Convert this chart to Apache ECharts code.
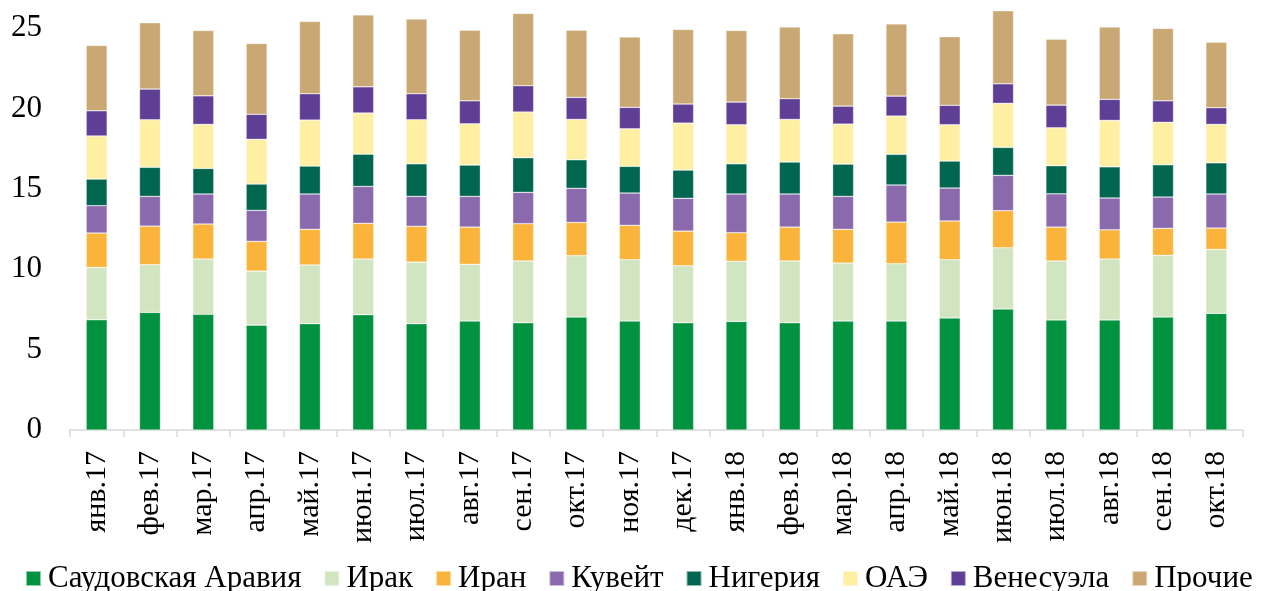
<!DOCTYPE html>
<html>
<head>
<meta charset="utf-8">
<script src="https://cdn.jsdelivr.net/npm/echarts@6/dist/echarts.min.js"></script>
<style>
  html, body { margin: 0; padding: 0; background: #fff; }
  #chart { width: 1262px; height: 591px; }
</style>
</head>
<body>
<div id="chart"></div>
<script>
// месяцы
const months = ['янв.17', 'фев.17', 'мар.17', 'апр.17', 'май.17', 'июн.17', 'июл.17', 'авг.17', 'сен.17', 'окт.17', 'ноя.17', 'дек.17',
  'янв.18', 'фев.18', 'мар.18', 'апр.18', 'май.18', 'июн.18', 'июл.18', 'авг.18', 'сен.18', 'окт.18']

// значения по странам
const saudi = [6.86, 7.32, 7.20, 6.53, 6.62, 7.18, 6.62, 6.78, 6.68, 7.03, 6.78, 6.68, 6.76, 6.68, 6.78, 6.78, 6.97, 7.53, 6.85, 6.85, 7.03, 7.26]
const iraq = [3.26, 2.97, 3.44, 3.36, 3.65, 3.46, 3.83, 3.53, 3.84, 3.82, 3.82, 3.54, 3.74, 3.84, 3.61, 3.57, 3.63, 3.81, 3.67, 3.79, 3.84, 3.98]
const iran = [2.14, 2.40, 2.18, 1.85, 2.22, 2.22, 2.23, 2.32, 2.32, 2.07, 2.14, 2.16, 1.78, 2.11, 2.10, 2.59, 2.41, 2.31, 2.11, 1.82, 1.68, 1.33]
const kuwait = [1.70, 1.85, 1.87, 1.93, 2.20, 2.30, 1.86, 1.91, 1.95, 2.12, 2.01, 2.04, 2.41, 2.06, 2.05, 2.31, 2.05, 2.20, 2.07, 1.98, 1.95, 2.12]
const nigeria = [1.66, 1.81, 1.59, 1.64, 1.74, 2.01, 2.03, 1.95, 2.16, 1.78, 1.66, 1.76, 1.88, 1.99, 2.01, 1.91, 1.68, 1.74, 1.75, 1.94, 2.01, 1.94]
const uae = [2.68, 2.96, 2.74, 2.78, 2.86, 2.56, 2.74, 2.57, 2.84, 2.51, 2.34, 2.92, 2.43, 2.65, 2.49, 2.38, 2.26, 2.74, 2.36, 2.89, 2.64, 2.39]
const venezuela = [1.57, 1.91, 1.78, 1.56, 1.64, 1.63, 1.62, 1.43, 1.64, 1.37, 1.33, 1.19, 1.41, 1.29, 1.12, 1.24, 1.21, 1.22, 1.41, 1.31, 1.34, 1.04]
const others = [4.07, 4.13, 4.07, 4.41, 4.50, 4.48, 4.65, 4.40, 4.50, 4.19, 4.38, 4.64, 4.46, 4.46, 4.50, 4.50, 4.27, 4.54, 4.11, 4.50, 4.51, 4.08]

// ось Y: верхняя часть (30) обрезана, как в исходнике
const yTicks = { min: 0, max: 30, interval: 5 }

const seriesList = [
  { name: 'Саудовская Аравия', data: saudi, color: '#00923F' },
  { name: 'Ирак', data: iraq, color: '#D1E5C0' },
  { name: 'Иран', data: iran, color: '#FAB33B' },
  { name: 'Кувейт', data: kuwait, color: '#8A69AC' },
  { name: 'Нигерия', data: nigeria, color: '#00664F' },
  { name: 'ОАЭ', data: uae, color: '#FFEFA2' },
  { name: 'Венесуэла', data: venezuela, color: '#5F3E96' },
  { name: 'Прочие', data: others, color: '#CAA874' },
]

const font = '"Liberation Serif", "DejaVu Serif", serif'

const chart = echarts.init(document.getElementById('chart'))

chart.setOption({
  animation: false,
  backgroundColor: '#fff',
  textStyle: { fontFamily: font },
  grid: { left: 70, right: 19, top: -52, bottom: 161, outerBoundsMode: 'none', containLabel: false },
  legend: {
    left: 20,
    top: 558,
    width: 1262,
    icon: 'rect',
    itemWidth: 15,
    itemHeight: 15,
    itemGap: 22,
    textStyle: { fontFamily: font, fontSize: 31, color: '#000', padding: [0, 0, 0, 2] },
    data: seriesList.map(s => s.name)
  },
  xAxis: {
    type: 'category',
    data: months,
    axisLine: { lineStyle: { color: '#D9D9D9', width: 1.5 } },
    axisTick: { show: true, length: 7, lineStyle: { color: '#D9D9D9', width: 1.5 } },
    axisLabel: { rotate: 90, fontFamily: font, fontSize: 30, color: '#000', margin: 21 }
  },
  yAxis: {
    type: 'value',
    min: yTicks.min,
    max: yTicks.max,
    interval: yTicks.interval,
    splitLine: { show: false },
    axisLine: { show: false },
    axisTick: { show: false },
    axisLabel: { fontFamily: font, fontSize: 31, color: '#000', margin: 28 }
  },
  series: seriesList.map(s => ({
    name: s.name,
    type: 'bar',
    stack: 'total',
    barWidth: 21,
    data: s.data,
    itemStyle: { color: s.color, borderColor: 'rgba(255,255,255,0.55)', borderWidth: 0.6 }
  }))
})
</script>
</body>
</html>
